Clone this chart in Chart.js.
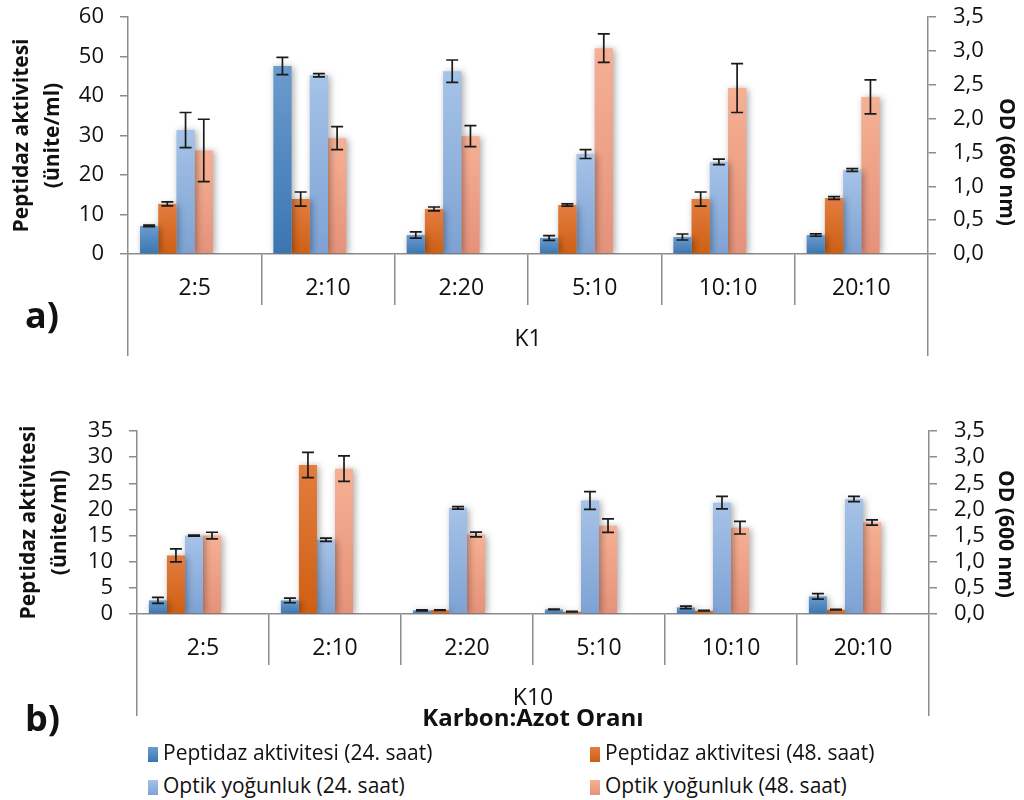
<!DOCTYPE html>
<html>
<head>
<meta charset="utf-8">
<script src="https://cdn.jsdelivr.net/npm/chart.js@4.4.1/dist/chart.umd.min.js"></script>
<style>
  body { margin: 0; background: #fff; width: 1024px; height: 800px; position: relative; overflow: hidden; font-family: "Open Sans", sans-serif; color: #111; }
  canvas { position: absolute; left: 0; }
  #chartK1 { top: -14px; }
  #chartK10 { top: 400px; }
  .tag { position: absolute; left: 25px; font-weight: bold; font-size: 36px; line-height: 40px; }
  .odTitle { position: absolute; width: 200px; height: 26px; line-height: 26px; text-align: center; font-weight: bold; font-size: 21px; transform: rotate(90deg); white-space: nowrap; }
  .leg { position: absolute; font-size: 21px; line-height: 24px; white-space: nowrap; }
  .leg i { display: inline-block; width: 10px; height: 15px; margin-right: 5px; vertical-align: -2px; }
</style>
</head>
<body>
<canvas id="chartK1" width="1024" height="374"></canvas>
<canvas id="chartK10" width="1024" height="340"></canvas>
<div class="tag" style="top:295px">a)</div>
<div class="tag" style="top:698px">b)</div>
<div class="odTitle" style="left:908px; top:149px">OD (600 nm)</div>
<div class="odTitle" style="left:907px; top:521px">OD (600 nm)</div>
<div id="legend"></div>
<script>
// kategoriler (Karbon:Azot oranı)
const categories = ['2:5', '2:10', '2:20', '5:10', '10:10', '20:10'];
const seriesLabels = ['Peptidaz aktivitesi (24. saat)', 'Peptidaz aktivitesi (48. saat)', 'Optik yoğunluk (24. saat)', 'Optik yoğunluk (48. saat)'];

// tick değerleri
const pepTicksK1 = [0, 10, 20, 30, 40, 50, 60];
const pepTicksK10 = [0, 5, 10, 15, 20, 25, 30, 35];
const odTicks = [0, 0.5, 1, 1.5, 2, 2.5, 3, 3.5];

// K1
const pep24K1 = [7.1, 47.6, 4.8, 4.05, 4.3, 4.8];
const pep24K1Err = [0.2, 2.2, 0.8, 0.6, 0.76, 0.3];
const pep48K1 = [12.7, 13.9, 11.4, 12.4, 13.9, 14.2];
const pep48K1Err = [0.5, 1.8, 0.5, 0.3, 1.8, 0.35];
const od24K1 = [1.83, 2.64, 2.70, 1.475, 1.36, 1.24];
const od24K1Err = [0.26, 0.025, 0.165, 0.065, 0.04, 0.02];
const od48K1 = [1.53, 1.71, 1.74, 3.04, 2.45, 2.32];
const od48K1Err = [0.46, 0.17, 0.155, 0.21, 0.36, 0.25];

// K10
const pep24K10 = [2.6, 2.6, 0.7, 0.9, 1.27, 3.37];
const pep24K10Err = [0.57, 0.45, 0.1, 0.05, 0.25, 0.54];
const pep48K10 = [11.2, 28.5, 0.76, 0.45, 0.64, 0.83];
const pep48K10Err = [1.24, 2.4, 0.05, 0.05, 0.05, 0.05];
const od24K10 = [1.50, 1.42, 2.03, 2.17, 2.13, 2.20];
const od24K10Err = [0.01, 0.03, 0.025, 0.17, 0.12, 0.05];
const od48K10 = [1.50, 2.78, 1.52, 1.69, 1.65, 1.75];
const od48K10Err = [0.064, 0.245, 0.045, 0.13, 0.12, 0.05];

// boş yer tutucu seri (Excel'deki gibi grubu sola kaydırmak için)
const spacer = [null, null, null, null, null, null];

const gradTop = ['#6b9bcd', '#e27d40', '#a6c3e8', '#f6b093'];
const gradBottom = ['#3a76b3', '#cf5f12', '#7da2d3', '#e5927a'];
const gray = '#8c8c8c';
const fontFamily = '"Open Sans", sans-serif';

const barFill = (k) => (c) => {
    const chart = c.chart;
    if (!chart.chartArea || c.type !== 'data' || c.raw == null) return gradBottom[k];
    const sc = chart.scales[chart.data.datasets[c.datasetIndex].yAxisID];
    const y0 = sc.getPixelForValue(0);
    const y1 = sc.getPixelForValue(c.raw);
    if (!isFinite(y1) || Math.abs(y0 - y1) < 1) return gradBottom[k];
    const g = chart.ctx.createLinearGradient(0, y1, 0, y0);
    g.addColorStop(0, gradTop[k]);
    g.addColorStop(1, gradBottom[k]);
    return g;
};

const barShadow = {
    id: 'barShadow',
    beforeDatasetsDraw(chart) {
        const c = chart.ctx;
        c.save();
        c.shadowColor = 'rgba(0,0,0,0.35)';
        c.shadowBlur = 7;
        c.shadowOffsetX = 2;
        c.shadowOffsetY = 1;
    },
    afterDatasetsDraw(chart) {
        chart.ctx.restore();
    }
};

const errorBars = {
    id: 'errorBars',
    afterDatasetsDraw(chart) {
        const ctx = chart.ctx;
        ctx.save();
        ctx.strokeStyle = '#1a1a1a';
        ctx.lineWidth = 1.7;
        chart.data.datasets.forEach((ds, i) => {
            if (!ds.errors) return;
            const sc = chart.scales[ds.yAxisID];
            chart.getDatasetMeta(i).data.forEach((bar, j) => {
                const v = ds.data[j];
                const e = ds.errors[j];
                if (v == null) return;
                const yt = sc.getPixelForValue(v + e);
                const yb = sc.getPixelForValue(Math.max(v - e, 0));
                const x = bar.x;
                ctx.beginPath();
                ctx.moveTo(x, yt); ctx.lineTo(x, yb);
                ctx.moveTo(x - 6, yt); ctx.lineTo(x + 6, yt);
                ctx.moveTo(x - 6, yb); ctx.lineTo(x + 6, yb);
                ctx.stroke();
            });
        });
        ctx.restore();
    }
};

const buildPanel = (id, p) => {
    const series = [
        [p.pep24, p.pep24Err, 'yL'],
        [p.pep48, p.pep48Err, 'yL'],
        [p.od24, p.od24Err, 'yR'],
        [p.od48, p.od48Err, 'yR']
    ];
    const datasets = series.map((s, k) => ({
        label: seriesLabels[k],
        data: s[0],
        errors: s[1],
        yAxisID: s[2],
        backgroundColor: barFill(k),
        borderWidth: 0
    }));
    datasets.push({ label: '', data: spacer, yAxisID: 'yL' }, { label: '', data: spacer, yAxisID: 'yL' });

    const stepOf = (t) => t[1] - t[0];

    return new Chart(document.getElementById(id), {
        type: 'bar',
        data: { labels: categories, datasets: datasets },
        plugins: [barShadow, errorBars],
        options: {
            responsive: false,
            animation: false,
            categoryPercentage: 0.82,
            barPercentage: 1,
            layout: { padding: { top: p.padTop, bottom: p.padBottom, left: 0, right: 0 } },
            plugins: { legend: { display: false }, tooltip: { enabled: false } },
            scales: {
                x: {
                    position: 'bottom',
                    weight: 0,
                    grid: { drawOnChartArea: false, offset: true, tickLength: 51, color: gray, lineWidth: 1.5 },
                    border: { display: true, color: gray, width: 1.5 },
                    ticks: { autoSkip: false, maxRotation: 0, padding: -30, color: '#111', font: { family: fontFamily, size: 23 } },
                    afterFit: (s) => { s.height = 51; }
                },
                group: {
                    type: 'category',
                    labels: [p.group],
                    position: 'bottom',
                    weight: 1,
                    offset: true,
                    grid: { drawOnChartArea: false, offset: true, tickLength: 51, color: gray, lineWidth: 1.5 },
                    border: { display: false },
                    ticks: { padding: p.groupPad, color: '#111', font: { family: fontFamily, size: 23 } },
                    title: p.groupTitle
                        ? { display: true, text: p.groupTitle, color: '#111', padding: { top: 0, bottom: 6 }, font: { family: fontFamily, size: 24, weight: 'bold', lineHeight: 1.2 } }
                        : { display: false },
                    afterFit: (s) => { s.height = p.groupHeight; }
                },
                yL: {
                    position: 'left',
                    min: p.pepTicks[0],
                    max: p.pepTicks[p.pepTicks.length - 1],
                    ticks: { autoSkip: false, stepSize: stepOf(p.pepTicks), padding: 16, color: '#111', font: { family: fontFamily, size: 22 } },
                    grid: { drawOnChartArea: false, tickLength: 8, color: gray, lineWidth: 1.5 },
                    border: { color: gray, width: 1.5 },
                    title: { display: true, text: ['Peptidaz aktivitesi', '(ünite/ml)'], color: '#111', padding: { top: p.titlePad, bottom: 0 }, font: { family: fontFamily, size: 21, weight: 'bold', lineHeight: 1.45 } },
                    afterFit: (s) => { s.width = p.leftWidth; }
                },
                yR: {
                    position: 'right',
                    min: odTicks[0],
                    max: odTicks[odTicks.length - 1],
                    ticks: {
                        autoSkip: false, stepSize: stepOf(odTicks), padding: 17, color: '#111', font: { family: fontFamily, size: 22 },
                        callback: (v) => v.toFixed(1).replace('.', ',')
                    },
                    grid: { drawOnChartArea: false, tickLength: 8, color: gray, lineWidth: 1.5 },
                    border: { color: gray, width: 1.5 },
                    afterFit: (s) => { s.width = p.rightWidth; }
                }
            }
        }
    });
};

buildPanel('chartK1', {
    pep24: pep24K1, pep24Err: pep24K1Err, pep48: pep48K1, pep48Err: pep48K1Err,
    od24: od24K1, od24Err: od24K1Err, od48: od48K1, od48Err: od48K1Err,
    pepTicks: pepTicksK1, group: 'K1', groupTitle: null, groupHeight: 51, groupPad: -30,
    padTop: 31, padBottom: 4, leftWidth: 128, rightWidth: 96, titlePad: 7
});

buildPanel('chartK10', {
    pep24: pep24K10, pep24Err: pep24K10Err, pep48: pep48K10, pep48Err: pep48K10Err,
    od24: od24K10, od24Err: od24K10Err, od48: od48K10, od48Err: od48K10Err,
    pepTicks: pepTicksK10, group: 'K10', groupTitle: 'Karbon:Azot Oranı', groupHeight: 75, groupPad: -31,
    padTop: 31, padBottom: 0, leftWidth: 137, rightWidth: 95, titlePad: 14
});

// lejant (iki sütun)
const legendPos = [[148, 740], [590, 740], [148, 773], [590, 773]];
const legend = document.getElementById('legend');
seriesLabels.forEach((txt, k) => {
    const d = document.createElement('div');
    d.className = 'leg';
    d.style.left = legendPos[k][0] + 'px';
    d.style.top = legendPos[k][1] + 'px';
    const box = document.createElement('i');
    box.style.background = `linear-gradient(${gradTop[k]}, ${gradBottom[k]})`;
    d.appendChild(box);
    d.appendChild(document.createTextNode(txt));
    legend.appendChild(d);
});
</script>
</body>
</html>
